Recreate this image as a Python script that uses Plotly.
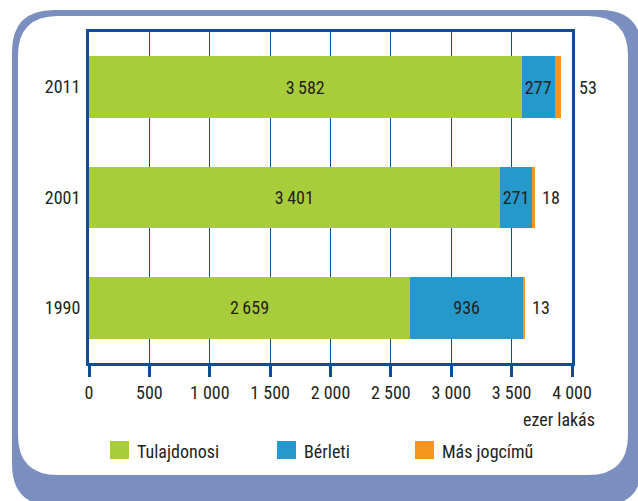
import plotly.graph_objects as go

years = ["1990", "2001", "2011"]
series_names = ["Tulajdonosi", "Bérleti", "Más jogcímű"]
tulajdonosi = [2659, 3401, 3582]
berleti = [936, 271, 277]
mas = [13, 18, 53]
tick_vals = [0, 500, 1000, 1500, 2000, 2500, 3000, 3500, 4000]
tick_text = ["0", "500", "1 000", "1 500", "2 000", "2 500", "3 000", "3 500", "4 000"]
colors = ["#a8cd3a", "#2699cc", "#f7941d"]

W, H = 638, 501
L, R, T, B = 89, 572, 32, 363
FONT = "Roboto Condensed, Liberation Sans Narrow, Roboto, sans-serif"
FS = 18
TXT = "#231f20"
AX = "#0d4f94"
FRAME = "#7a8fbf"


def fmt(v):
    return f"{v:,}".replace(",", "\u2009")


def px(x, y):
    return (x - L) / (R - L), (B - y) / (B - T)


def rrect(x0, y0, x1, y1, r):
    def p(x, y):
        a, b = px(x, y)
        return f"{a:.5f},{b:.5f}"
    d = f"M{p(x0 + r, y0)} L{p(x1 - r, y0)} Q{p(x1, y0)} {p(x1, y0 + r)} "
    d += f"L{p(x1, y1 - r)} Q{p(x1, y1)} {p(x1 - r, y1)} "
    d += f"L{p(x0 + r, y1)} Q{p(x0, y1)} {p(x0, y1 - r)} "
    d += f"L{p(x0, y0 + r)} Q{p(x0, y0)} {p(x0 + r, y0)} Z"
    return d


fig = go.Figure()
vals = [tulajdonosi, berleti, mas]
for i, (name, v) in enumerate(zip(series_names, vals)):
    fig.add_trace(go.Bar(
        y=years, x=v, orientation="h", name=name,
        marker=dict(color=colors[i], line=dict(width=0)),
        text=[fmt(a) for a in v] if i < 2 else None,
        textposition="inside" if i < 2 else "none",
        insidetextanchor="middle",
        constraintext="none", textangle=0,
        textfont=dict(family=FONT, size=FS, color=TXT),
        showlegend=False, hoverinfo="x+name",
    ))

shapes = [
    dict(type="path", xref="paper", yref="paper", path=rrect(12, 10, 642, 506, 42),
         fillcolor=FRAME, line=dict(width=0), layer="below"),
    dict(type="path", xref="paper", yref="paper", path=rrect(18, 16, 628, 475, 40),
         fillcolor="white", line=dict(width=0), layer="below"),
]

annotations = []
for idx, (a, b, c) in enumerate(zip(tulajdonosi, berleti, mas)):
    total = a + b + c
    xpos = total if total < 3800 else 4000
    annotations.append(dict(x=xpos, y=idx, xref="x", yref="y", text=str(c),
                            showarrow=False, xanchor="left", xshift=5,
                            font=dict(family=FONT, size=FS, color=TXT)))

annotations.append(dict(x=(597 - L) / (R - L), y=(B - 419) / (B - T), xref="paper", yref="paper",
                        text="ezer lakás", showarrow=False, xanchor="right", yanchor="middle",
                        font=dict(family=FONT, size=FS, color=TXT)))

leg_x = [110, 277, 415]
for i, name in enumerate(series_names):
    x0, y0 = px(leg_x[i], 441)
    x1, y1 = px(leg_x[i] + 19, 459)
    shapes.append(dict(type="rect", xref="paper", yref="paper", x0=x0, y0=y0, x1=x1, y1=y1,
                       fillcolor=colors[i], line=dict(width=0)))
    tx, ty = px(leg_x[i] + 25, 451)
    annotations.append(dict(x=tx, y=ty, xref="paper", yref="paper", text=name,
                            showarrow=False, xanchor="left", yanchor="middle",
                            font=dict(family=FONT, size=FS, color=TXT)))

fig.update_layout(
    width=W, height=H,
    margin=dict(l=L, r=W - R, t=T, b=H - B, autoexpand=False),
    barmode="stack", bargap=0.44,
    paper_bgcolor="white", plot_bgcolor="rgba(0,0,0,0)",
    shapes=shapes, annotations=annotations,
    font=dict(family=FONT, size=FS, color=TXT),
    xaxis=dict(range=[0, 4000], tickvals=tick_vals, ticktext=tick_text,
               showgrid=True, gridcolor=AX, gridwidth=1,
               showline=True, linecolor=AX, linewidth=3, mirror=True,
               ticks="outside", ticklen=11, tickwidth=3, tickcolor=AX,
               zeroline=False, fixedrange=True,
               tickfont=dict(family=FONT, size=FS, color=TXT)),
    yaxis=dict(type="category", categoryorder="array", categoryarray=years, range=[-0.5, 2.5],
               showgrid=False, showline=True, linecolor=AX, linewidth=3, mirror=True,
               ticks="", ticklabelstandoff=2, zeroline=False, fixedrange=True,
               tickfont=dict(family=FONT, size=FS, color=TXT)),
)

fig.write_html("out.html", config={"displayModeBar": False},
               post_script="document.body.style.margin='0';")
